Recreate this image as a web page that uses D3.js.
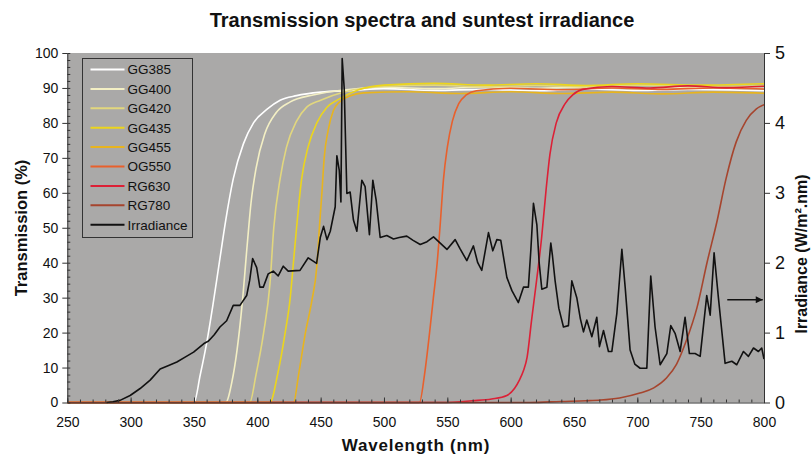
<!DOCTYPE html>
<html>
<head>
<meta charset="utf-8">
<script src="https://cdn.jsdelivr.net/npm/d3@7"></script>
<style>
  body { margin: 0; background: #fff; }
  svg { display: block; font-family: "Liberation Sans", Arial, sans-serif; }
</style>
</head>
<body>
<svg class="chart"></svg>
<script>
// filter transmission curves, [wavelength nm, transmission %]
const gg385 = [[250,0],[350,0],[355,8],[360,17],[365,28],[370,40],[375,52],[381,64],[389,74],[397,80],[408,84],[418,86.5],[431,87.8],[450,88.8],[475,89.3],[500,89.8],[540,89.3],[580,89.6],[620,89.2],[660,89.7],[700,89.3],[740,89.6],[800,89.2]];
const gg400 = [[250,0],[375,0],[380,6],[384,15],[388,28],[392,45],[395,57],[399,67],[406,77],[415,83],[426,86],[444,88],[470,89.5],[500,90.2],[540,89.8],[580,90.3],[620,89.9],[660,90.3],[700,89.8],[750,90.2],[800,89.9]];
const gg420 = [[250,0],[394,0],[399,8],[405,20],[410,34],[413,50],[418,64],[423,73],[431,80.5],[439,84.5],[450,86.5],[470,89],[500,90.4],[540,90.8],[580,90.3],[620,90.7],[660,90.3],[700,90.8],[750,90.4],[800,90.6]];
const gg435 = [[250,0],[410,0],[416,8],[422,20],[426,30],[428.5,40],[431,50],[435,64],[440,73],[447,80],[455,84.5],[463,86.5],[480,89.5],[500,90.8],[540,91.3],[580,90.8],[620,91.2],[660,90.7],[700,91.2],[750,90.8],[800,91.2]];
const gg455 = [[250,0],[428.6,0],[432.6,8],[438,20],[443,29],[447,39],[449,50],[451,60],[452.8,70],[456,78],[460,83.5],[465,86],[473,87.7],[484,88.6],[520,88.9],[560,88.4],[600,88.9],[640,88.4],[680,88.8],[720,88.3],[760,88.8],[800,88.5]];
const og550 = [[250,0],[528,0],[532,8],[536,20],[539,30],[542,40],[544.4,51],[547,64],[550,73],[554,80.5],[559,85.5],[565,88],[573,89.2],[600,89.9],[640,89.5],[680,90],[720,89.6],[760,90],[800,89.7]];
const rg630 = [[250,0],[545,0],[570,0.5],[585,1],[597,2],[603,4],[607,6.5],[610,9],[613,13],[616.5,23.5],[620.5,35],[624.4,47],[628,61],[631,71],[636,80],[643,85.5],[649,88],[657,89.6],[680,90.4],[710,90],[740,90.6],[770,90.1],[800,90.5]];
const rg780 = [[250,0],[615,0],[640,0.3],[660,0.5],[671,0.7],[686,1.3],[702,2.7],[713,4.2],[723,7],[731,11],[739,18],[747,27],[755,40],[763,52],[770,64],[778,74.5],[786,80.7],[794,84],[800,85.2]];

// suntest irradiance, [wavelength nm, W/m2.nm]
const irradiance = [[281,0],[286,0.01],[291.6,0.03],[299.6,0.1],[307.5,0.2],[315.4,0.32],[323.3,0.48],[330,0.53],[336.5,0.58],[343,0.65],[349.7,0.72],[357.6,0.84],[361.5,0.88],[366,0.97],[370.5,1.08],[375.8,1.17],[381,1.39],[386.3,1.39],[391.6,1.53],[394,1.75],[396.3,2.06],[399.5,1.93],[402,1.65],[404.7,1.65],[408.6,1.84],[412.6,1.88],[416.5,1.81],[420.5,1.95],[424.4,1.88],[433.7,1.89],[440.2,2.07],[446.8,1.99],[449.7,2.36],[452.3,2.52],[455,2.33],[457.6,2.45],[461.5,2.8],[462.8,3.53],[464.7,3.32],[466,2.87],[467,4.92],[468.6,4.5],[470.7,2.99],[473.3,3.01],[475.9,2.61],[478.6,2.45],[482.5,3.18],[485.1,3.09],[488.5,2.4],[491.2,3.18],[493.8,2.9],[497,2.36],[502.2,2.39],[507.5,2.34],[512,2.36],[518,2.38],[523,2.32],[528.6,2.26],[534,2.3],[539.1,2.37],[544.4,2.28],[549.7,2.19],[556.2,2.33],[560,2.2],[565.4,2.03],[570.6,2.24],[574,2.0],[577.2,1.89],[582.5,2.43],[585.9,2.17],[589.1,2.33],[592.2,2.32],[597,1.79],[601,1.6],[606.1,1.43],[610.1,1.65],[614,1.65],[616,2.2],[618,2.85],[620.7,2.54],[622.5,2.0],[624.6,1.62],[628.6,1.65],[631.7,2.28],[633,2.1],[635.1,1.74],[638,1.35],[641.7,1.08],[645.6,1.1],[648.3,1.74],[652.2,1.5],[655,1.2],[657.5,1.01],[660.1,1.18],[664.1,0.94],[668,1.22],[670.1,0.8],[673.3,1.03],[677.2,0.73],[679.9,0.73],[683.8,1.27],[687.8,2.19],[690.4,1.65],[694.3,0.75],[698,0.55],[702.2,0.49],[707.5,0.49],[710.6,1.81],[714,1.08],[718,0.54],[723.3,0.7],[726.4,1.1],[729.8,0.99],[733.8,0.73],[737.7,1.22],[741.1,0.7],[745.6,0.7],[749.6,0.66],[754.8,1.53],[757.5,1.25],[760.6,2.14],[764,1.5],[769.3,0.56],[774.6,0.59],[778.5,0.54],[783.8,0.73],[787.7,0.66],[791.7,0.78],[795.6,0.73],[798.2,0.78],[800,0.62]];

const filterNames = ["GG385", "GG400", "GG420", "GG435", "GG455", "OG550", "RG630", "RG780"];
const filterData = [gg385, gg400, gg420, gg435, gg455, og550, rg630, rg780];
const filterColors = ["#ffffff", "#f3efc4", "#e2d77e", "#ecd51c", "#e8b41e", "#e8602c", "#dc2036", "#a6452e"];

const xTicks = [250, 300, 350, 400, 450, 500, 550, 600, 650, 700, 750, 800];
const yLeftTicks = [0, 10, 20, 30, 40, 50, 60, 70, 80, 90, 100];
const yRightTicks = [0, 1, 2, 3, 4, 5];
const arrowNote = [[771, 1.47], [799, 1.47]];

const width = 812;
const height = 455;
const marginTop = 53;
const marginRight = 48;
const marginBottom = 52.5;
const marginLeft = 67.3;

const x = d3.scaleLinear().domain([250, 800]).range([marginLeft, width - marginRight]);
const y = d3.scaleLinear().domain([0, 100]).range([height - marginBottom, marginTop]);
const y2 = d3.scaleLinear().domain([0, 5]).range([height - marginBottom, marginTop]);

const svg = d3.select("svg.chart")
  .attr("width", width)
  .attr("height", height)
  .attr("viewBox", `0 0 ${width} ${height}`);

// plot background
svg.append("rect")
  .attr("x", x(250)).attr("y", y(100))
  .attr("width", x(800) - x(250)).attr("height", y(0) - y(100))
  .attr("fill", "#aaa9a8");

// filter lines
const line = d3.line()
  .curve(d3.curveMonotoneX)
  .x(d => x(d[0]))
  .y(d => y(d[1]));

svg.append("g")
  .attr("fill", "none")
  .attr("stroke-width", 1.6)
  .selectAll("path")
  .data(filterData)
  .join("path")
  .attr("stroke", (d, i) => filterColors[i])
  .attr("d", line);

// irradiance line
const irrLine = d3.line()
  .x(d => x(d[0]))
  .y(d => y2(d[1]));

svg.append("path")
  .datum(irradiance)
  .attr("fill", "none")
  .attr("stroke", "#111")
  .attr("stroke-width", 1.6)
  .attr("stroke-linejoin", "round")
  .attr("d", irrLine);

// arrow pointing to the right axis
svg.append("defs").append("marker")
  .attr("id", "arrowhead")
  .attr("viewBox", "0 0 10 10")
  .attr("refX", 10).attr("refY", 5)
  .attr("markerWidth", 12).attr("markerHeight", 7)
  .attr("markerUnits", "userSpaceOnUse")
  .attr("orient", "auto")
  .append("path")
  .attr("d", "M0,0L10,5L0,10Z")
  .attr("fill", "#111");

svg.append("path")
  .datum(arrowNote)
  .attr("fill", "none")
  .attr("stroke", "#111")
  .attr("stroke-width", 1.4)
  .attr("marker-end", "url(#arrowhead)")
  .attr("d", irrLine);

// axes
const tickFont = g => g.selectAll("text")
  .attr("fill", "#111")
  .attr("font-family", "'Liberation Sans', Arial, sans-serif");

svg.append("g")
  .attr("transform", `translate(0,${y(0)})`)
  .call(d3.axisBottom(x).ticks(55).tickSize(-3).tickFormat(""))
  .call(g => g.select(".domain").remove())
  .call(g => g.selectAll("line").attr("stroke", "#333"));

svg.append("g")
  .attr("transform", `translate(0,${y(0)})`)
  .call(d3.axisBottom(x).tickValues(xTicks).tickSizeInner(-5).tickSizeOuter(0).tickPadding(15))
  .call(g => g.select(".domain").attr("stroke", "#333"))
  .call(g => g.selectAll("line").attr("stroke", "#333"))
  .call(g => g.selectAll("text").attr("font-size", 14))
  .call(tickFont);

svg.append("g")
  .attr("transform", `translate(${x(250)},0)`)
  .call(d3.axisLeft(y).ticks(50).tickSize(-3).tickFormat(""))
  .call(g => g.select(".domain").remove())
  .call(g => g.selectAll("line").attr("stroke", "#333"));

svg.append("g")
  .attr("transform", `translate(${x(250)},0)`)
  .call(d3.axisLeft(y).tickValues(yLeftTicks).tickSizeInner(5).tickSizeOuter(0).tickPadding(4))
  .call(g => g.select(".domain").attr("stroke", "#333"))
  .call(g => g.selectAll("line").attr("stroke", "#333"))
  .call(g => g.selectAll("text").attr("font-size", 14))
  .call(tickFont);

svg.append("g")
  .attr("transform", `translate(${x(800)},0)`)
  .call(d3.axisRight(y2).tickValues(yRightTicks).tickFormat(d3.format("d")).tickSizeInner(6).tickSizeOuter(0).tickPadding(5))
  .call(g => g.select(".domain").attr("stroke", "#333"))
  .call(g => g.selectAll("line").attr("stroke", "#333"))
  .call(g => g.selectAll("text").attr("font-size", 18))
  .call(tickFont);

// titles
svg.append("text")
  .attr("x", 422).attr("y", 27)
  .attr("text-anchor", "middle")
  .attr("font-size", 20).attr("font-weight", "bold")
  .attr("fill", "#111")
  .text("Transmission spectra and suntest irradiance");

svg.append("text")
  .attr("x", 416).attr("y", 451)
  .attr("text-anchor", "middle")
  .attr("font-size", 17).attr("font-weight", "bold")
  .attr("letter-spacing", 0.8)
  .attr("fill", "#111")
  .text("Wavelength (nm)");

svg.append("text")
  .attr("transform", `translate(27,228) rotate(-90)`)
  .attr("text-anchor", "middle")
  .attr("font-size", 16.5).attr("font-weight", "bold")
  .attr("fill", "#111")
  .text("Transmission (%)");

svg.append("text")
  .attr("transform", `translate(807,254) rotate(-90)`)
  .attr("text-anchor", "middle")
  .attr("font-size", 16).attr("font-weight", "bold")
  .attr("fill", "#111")
  .text("Irradiance (W/m².nm)");

// legend
const legendItems = filterNames.map((n, i) => ({ name: n, color: filterColors[i] }))
  .concat([{ name: "Irradiance", color: "#111" }]);

const legend = svg.append("g").attr("transform", "translate(82.5,58.5)");
legend.append("rect")
  .attr("width", 110).attr("height", 179)
  .attr("fill", "#aaa9a8")
  .attr("stroke", "#333").attr("stroke-width", 1);

const rows = legend.selectAll("g")
  .data(legendItems)
  .join("g")
  .attr("transform", (d, i) => `translate(0,${11 + i * 19.4})`);

rows.append("line")
  .attr("x1", 8).attr("x2", 42)
  .attr("stroke", d => d.color)
  .attr("stroke-width", 2);

rows.append("text")
  .attr("x", 45).attr("dy", "0.36em")
  .attr("font-size", 13.5)
  .attr("fill", "#111")
  .text(d => d.name);
</script>
</body>
</html>
